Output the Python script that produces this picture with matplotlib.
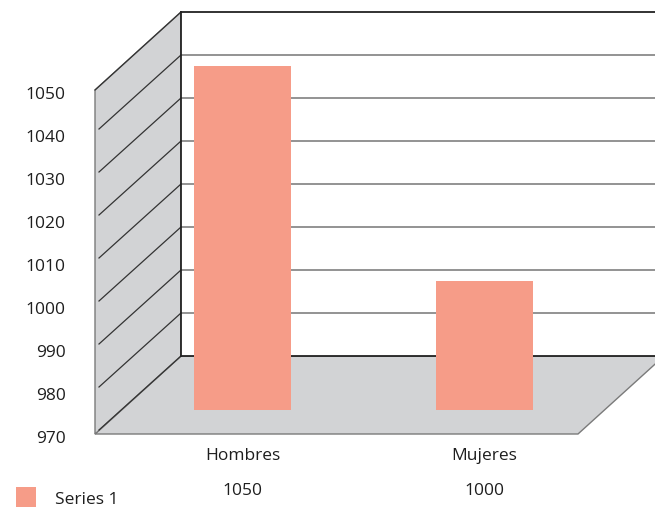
import matplotlib.pyplot as plt
from matplotlib.patches import Polygon, Rectangle
from matplotlib.transforms import ScaledTranslation

# data
categories = ["Hombres", "Mujeres"]
values = [1050, 1000]
series_name = "Series 1"
y_ticks = [970, 980, 990, 1000, 1010, 1020, 1030, 1040, 1050]

plt.rcParams['font.family'] = ['Open Sans', 'DejaVu Sans']

W, H = 655, 508
fig = plt.figure(figsize=(W / 100, H / 100), dpi=100)

# front plane of the 3D box, in pixels
left, right, bottom, top = 95, 578, 434, 90
ax = fig.add_axes([left / W, 1 - bottom / H, (right - left) / W, (bottom - top) / H])
ymin, ymax = y_ticks[0], y_ticks[-1]
xmin, xmax = -0.5, len(categories) - 0.5
ax.set_xlim(xmin, xmax)
ax.set_ylim(ymin, ymax)
for s in ax.spines.values():
    s.set_visible(False)

# depth offsets converted from pixels to data units
px_x = (xmax - xmin) / (right - left)
px_y = (ymax - ymin) / (bottom - top)
ddx, ddy = 86 * px_x, 78 * px_y        # back wall
bdx, bdy = 27 * px_x, 24 * px_y        # bars sit part way in

wall = "#d2d3d5"
edge = "#7a7a7a"

# floor
ax.add_patch(Polygon([(xmin, ymin), (xmax, ymin), (xmax + ddx, ymin + ddy), (xmin + ddx, ymin + ddy)],
                     closed=True, facecolor=wall, edgecolor=edge, lw=1, clip_on=False, zorder=1))
# side wall
ax.add_patch(Polygon([(xmin, ymin), (xmin, ymax), (xmin + ddx, ymax + ddy), (xmin + ddx, ymin + ddy)],
                     closed=True, facecolor=wall, edgecolor=edge, lw=1, clip_on=False, zorder=1))
ax.plot([xmin, xmin + ddx], [ymax, ymax + ddy], color="#333333", lw=0.9, clip_on=False, zorder=2)
# back wall
ax.add_patch(Rectangle((xmin + ddx, ymin + ddy), xmax - xmin, ymax - ymin,
                       facecolor="white", edgecolor="none", clip_on=False, zorder=1))
for v in y_ticks[1:-1]:
    ax.plot([xmin + ddx, xmax + ddx], [v + ddy, v + ddy], color="#8a8a8a", lw=1.3, clip_on=False, zorder=2)
for v in y_ticks[:-1]:
    ax.plot([xmin + 4 * px_x, xmin + ddx], [v + 4 * px_y, v + ddy], color="#333333", lw=0.9,
            clip_on=False, zorder=2)
ax.plot([xmin + ddx, xmax + ddx], [ymax + ddy, ymax + ddy], color="#222222", lw=1.3, clip_on=False, zorder=2)
ax.plot([xmin + ddx, xmax + ddx], [ymin + ddy, ymin + ddy], color="#222222", lw=1.3, clip_on=False, zorder=2)
ax.plot([xmin + ddx, xmin + ddx], [ymin + ddy, ymax + ddy], color="#222222", lw=1.3, clip_on=False, zorder=2)

# bars
xs = list(range(len(categories)))
ax.bar([x + bdx for x in xs], [v - ymin for v in values], bottom=ymin + bdy, width=0.4,
       color="#f69c88", zorder=3, clip_on=False)

# axis labels
ax.set_xticks([])
ax.set_yticks(y_ticks)
ax.set_yticklabels([str(t) for t in y_ticks], fontsize=12.5, color="#1e1e1e")
ax.tick_params(axis="y", length=0, pad=21)
shift = ScaledTranslation(0, -3 / 100, fig.dpi_scale_trans)
for lbl in ax.get_yticklabels():
    lbl.set_transform(lbl.get_transform() + shift)

for x, c, v in zip(xs, categories, values):
    ax.text(x + bdx, ymin - 22 * px_y, c, ha="center", va="center", fontsize=12.5,
            color="#1e1e1e", clip_on=False)
    ax.text(x + bdx, ymin - 57 * px_y, str(v), ha="center", va="center", fontsize=12.5,
            color="#1e1e1e", clip_on=False)

# legend
fig.patches.append(Rectangle((16 / W, 1 - 507 / H), 20 / W, 20 / H, transform=fig.transFigure,
                             facecolor="#f69c88", edgecolor="none"))
fig.text(55 / W, 1 - 500 / H, series_name, ha="left", va="center", fontsize=12.5, color="#1e1e1e")

fig.savefig("out.png", dpi=100)
